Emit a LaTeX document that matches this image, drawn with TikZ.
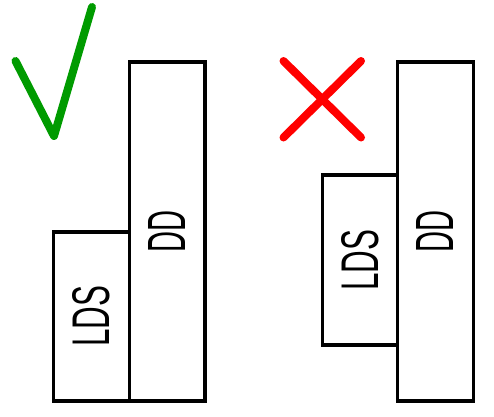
\documentclass[tikz,border=0pt]{standalone}
\usepackage{fontspec}
\setsansfont{Liberation Sans}
\usepackage{graphicx}
\definecolor{okgreen}{RGB}{0,155,0}
\definecolor{badred}{RGB}{255,0,0}
\begin{document}
\begin{tikzpicture}[x=1pt,y=-1pt,
  blk/.style={draw=black, line width=3.5pt, rotate=90, inner sep=0pt, fill=white},
  signstroke/.style={line width=8pt, line cap=round, line join=round}]
\useasboundingbox (0,0) rectangle (494,416);
% left (correct) arrangement
\node[blk, minimum width=169.3pt, minimum height=75.8pt] (lds1) at (91.4,316.4)
  {\resizebox{61pt}{37pt}{\sffamily LDS}};
\node[blk, minimum width=339pt, minimum height=75.7pt] (dd1) at (167.2,231.5)
  {\resizebox{42pt}{37pt}{\sffamily DD}};
\draw[signstroke, draw=okgreen] (15.5,61) -- (54,136) -- (92,7);
% right (wrong) arrangement
\node[blk, minimum width=170pt, minimum height=75pt] (lds2) at (359.8,260)
  {\resizebox{61pt}{37pt}{\sffamily LDS}};
\node[blk, minimum width=339pt, minimum height=76pt] (dd2) at (435.3,231.5)
  {\resizebox{42pt}{37pt}{\sffamily DD}};
\draw[signstroke, draw=badred] (283.5,61) -- (361,137.5);
\draw[signstroke, draw=badred] (361,61) -- (283.5,137.5);
\end{tikzpicture}
\end{document}
